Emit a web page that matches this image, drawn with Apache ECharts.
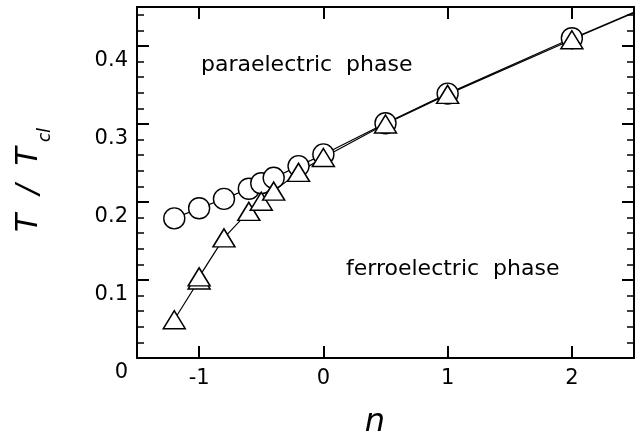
<!DOCTYPE html>
<html>
<head>
<meta charset="utf-8">
<script src="https://cdn.jsdelivr.net/npm/echarts@6/dist/echarts.min.js"></script>
<style>
html, body { margin: 0; padding: 0; background: #fff; }
#chart { width: 641px; height: 438px; }
</style>
</head>
<body>
<div id="chart"></div>
<script>
// paraelectric transition (circles)
const paraN = [-1.2, -1.0, -0.8, -0.6, -0.5, -0.4, -0.2, 0, 0.5, 1, 2]
const paraT = [0.179, 0.192, 0.204, 0.217, 0.224, 0.231, 0.246, 0.261, 0.301, 0.339, 0.410]
// ferroelectric transition (triangles)
const ferroN = [-1.2, -1.0, -1.0, -0.8, -0.6, -0.5, -0.4, -0.2, 0, 0.5, 1, 2]
const ferroT = [0.049, 0.100, 0.104, 0.154, 0.188, 0.201, 0.214, 0.238, 0.257, 0.300, 0.338, 0.408]
// straight line continued past the last point
const extN = [2, 2.5]
const extT = [0.409, 0.443]

const yTicks = [0, 0.1, 0.2, 0.3, 0.4]

const zip = (xs, ys) => xs.map((x, i) => [x, ys[i]])
const font = 'DejaVu Sans'
const black = '#000'

const majorTick = {show: true, inside: true, length: 12, lineStyle: {color: black, width: 2}}
const minorTick = {show: true, inside: true, length: 7, lineStyle: {color: black, width: 1.5}}
const frame = {show: true, onZero: false, lineStyle: {color: black, width: 2}}

const xBase = {
	type: 'value', min: -1.5, max: 2.5, splitNumber: 4,
	axisLine: frame, axisTick: majorTick, splitLine: {show: false}
}
const yMajor = {
	type: 'value', min: 0, max: 0.45, interval: 0.1,
	axisLine: frame, axisTick: majorTick, splitLine: {show: false}
}
const yMinor = {
	type: 'value', min: 0, max: 0.45, interval: 0.02,
	axisLine: {show: false, onZero: false}, axisTick: minorTick, axisLabel: {show: false}, splitLine: {show: false}
}

const chart = echarts.init(document.getElementById('chart'))
chart.setOption({
	animation: false,
	backgroundColor: '#fff',
	grid: {left: 137, right: 7, top: 7, bottom: 80},
	xAxis: [
		Object.assign({}, xBase, {
			position: 'bottom',
			axisLabel: {
				margin: 10, fontSize: 21, fontFamily: font, color: black,
				showMinLabel: false, showMaxLabel: false
			}
		}),
		Object.assign({}, xBase, {position: 'top', axisLabel: {show: false}})
	],
	yAxis: [
		Object.assign({}, yMajor, {
			position: 'left',
			axisLabel: {
				margin: 9, fontSize: 21, fontFamily: font, color: black,
				verticalAlign: 'top', padding: [4, 0, 0, 0], showMaxLabel: false,
				formatter: v => yTicks.includes(Math.round(v * 100) / 100) ? (v === 0 ? '0' : v.toFixed(1)) : ''
			}
		}),
		Object.assign({}, yMinor, {position: 'left'}),
		Object.assign({}, yMajor, {position: 'right', axisLabel: {show: false}}),
		Object.assign({}, yMinor, {position: 'right'})
	],
	series: [
		{
			type: 'line', data: zip(paraN, paraT), showSymbol: false, z: 1,
			lineStyle: {color: black, width: 1.2}
		},
		{
			type: 'line', data: zip(ferroN, ferroT), showSymbol: false, z: 1,
			lineStyle: {color: black, width: 1.2}
		},
		{
			type: 'line', data: zip(extN, extT), showSymbol: false, z: 1,
			lineStyle: {color: black, width: 1.8}
		},
		{
			type: 'scatter', data: zip(paraN, paraT), symbol: 'circle', symbolSize: 21, z: 3,
			itemStyle: {color: '#fff', borderColor: black, borderWidth: 1.4, opacity: 1}
		},
		{
			type: 'scatter', data: zip(ferroN, ferroT), symbol: 'triangle', symbolSize: [22, 18], z: 4,
			itemStyle: {color: '#fff', borderColor: black, borderWidth: 1.5, opacity: 1}
		}
	],
	graphic: [
		{
			type: 'text', x: 201, y: 65,
			style: {text: 'paraelectric  phase', font: '22px "DejaVu Sans"', fill: black, align: 'left', verticalAlign: 'middle'}
		},
		{
			type: 'text', x: 346, y: 269,
			style: {text: 'ferroelectric  phase', font: '22px "DejaVu Sans"', fill: black, align: 'left', verticalAlign: 'middle'}
		},
		{
			type: 'text', x: 375, y: 423,
			style: {text: 'n', font: 'italic 32px "DejaVu Sans"', fill: black, align: 'center', verticalAlign: 'middle'}
		},
		{
			type: 'text', x: 29, y: 232, rotation: Math.PI / 2,
			style: {text: 'T  /  T', font: 'italic 30px "DejaVu Sans"', fill: black, align: 'left', verticalAlign: 'middle'}
		},
		{
			type: 'text', x: 46, y: 142, rotation: Math.PI / 2,
			style: {text: 'cl', font: 'italic 17px "DejaVu Sans"', fill: black, align: 'left', verticalAlign: 'middle'}
		}
	]
})
</script>
</body>
</html>
